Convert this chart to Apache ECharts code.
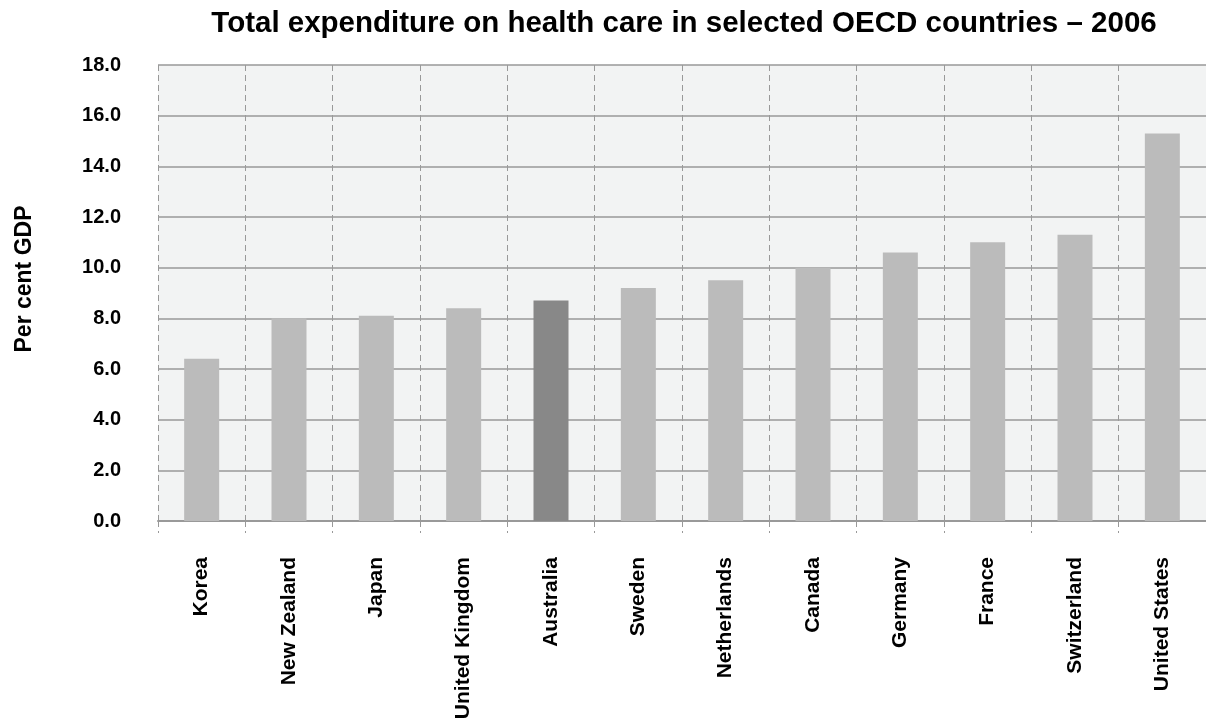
<!DOCTYPE html>
<html><head><meta charset="utf-8">
<script src="https://cdn.jsdelivr.net/npm/echarts@6/dist/echarts.min.js"></script>
<style>html,body{margin:0;padding:0;background:#fff;overflow:hidden}#c{width:1206px;height:726px}</style>
</head><body><div id="c"></div>
<script>
const categories = ['Korea','New Zealand','Japan','United Kingdom','Australia','Sweden','Netherlands','Canada','Germany','France','Switzerland','United States'];
const values = [6.4, 8.0, 8.1, 8.4, 8.7, 9.2, 9.5, 10.0, 10.6, 11.0, 11.3, 15.3];
const highlight = 'Australia';
const titleText = 'Total expenditure on health care in selected OECD countries – 2006';
const yName = 'Per cent GDP';

const chart = echarts.init(document.getElementById('c'));
const font = '"Liberation Sans", Arial, sans-serif';
chart.setOption({
  animation: false,
  title: { text: titleText, left: 679, top: 4, textAlign: 'center',
    textStyle: { fontFamily: font, fontWeight: 'bold', fontSize: 29.5, color: '#000' } },
  graphic: [{
    type: 'text', x: 25, y: 279, rotation: Math.PI / 2,
    style: { text: yName, fontFamily: font, fontWeight: 'bold', fontSize: 23, fill: '#000',
      textAlign: 'center', textVerticalAlign: 'middle' }
  }],
  grid: { left: 158, top: 65, width: 1060, height: 456, containLabel: false,
    show: true, backgroundColor: '#f2f3f3', borderWidth: 0 },
  xAxis: {
    type: 'category', data: categories,
    axisLine: { show: true, lineStyle: { color: '#999', width: 2 } },
    axisTick: { show: true, length: 12, lineStyle: { color: '#999', type: [6, 4], width: 1 } },
    splitLine: { show: true, lineStyle: { color: '#999', type: [6, 4], width: 1 } },
    axisLabel: { rotate: 90, margin: 36, fontFamily: font, fontWeight: 'bold', fontSize: 21, color: '#000', interval: 0 }
  },
  yAxis: {
    type: 'value', min: 0, max: 18, interval: 2,
    axisLine: { show: false }, axisTick: { show: false },
    splitLine: { show: true, lineStyle: { color: '#999', width: 1.5 } },
    axisLabel: { margin: 37, formatter: v => v.toFixed(1), fontFamily: font, fontWeight: 'bold', fontSize: 20, color: '#000' }
  },
  series: [{
    type: 'bar', barWidth: 35,
    data: values.map((v, i) => ({ value: v, itemStyle: { color: categories[i] === highlight ? '#888888' : '#bbbbbb' } })),
    z: 3
  }]
});
</script></body></html>
